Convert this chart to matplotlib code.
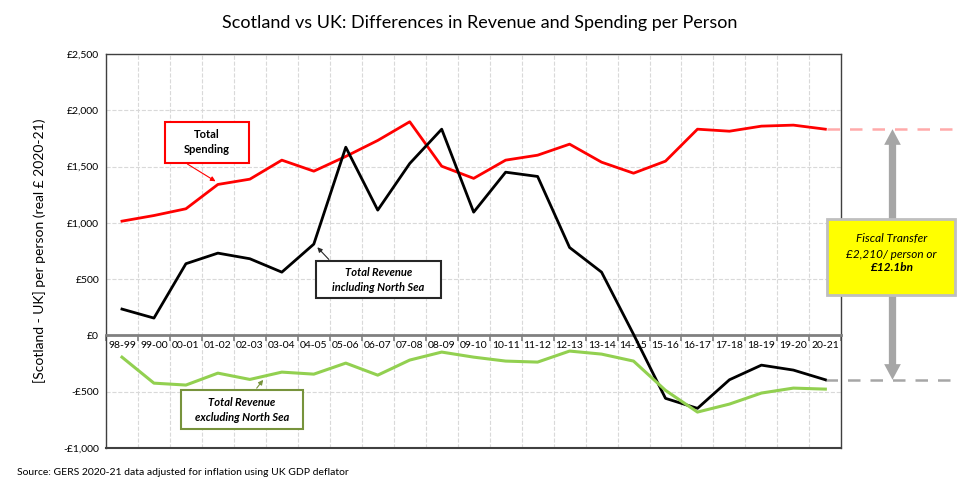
import numpy as np
import matplotlib.pyplot as plt
from matplotlib.patches import Rectangle
from matplotlib.ticker import FuncFormatter

plt.rcParams['font.family'] = ['Lato', 'DejaVu Sans']

years = ['98-99', '99-00', '00-01', '01-02', '02-03', '03-04', '04-05', '05-06',
         '06-07', '07-08', '08-09', '09-10', '10-11', '11-12', '12-13', '13-14',
         '14-15', '15-16', '16-17', '17-18', '18-19', '19-20', '20-21']
spending = [1015, 1065, 1125, 1341, 1388, 1557, 1459, 1590, 1732, 1898, 1503, 1395,
            1557, 1601, 1699, 1539, 1441, 1548, 1832, 1814, 1859, 1868, 1832]
revenue_ns = [234, 154, 637, 731, 681, 562, 811, 1672, 1113, 1527, 1832, 1095,
              1450, 1412, 781, 562, 10, -559, -648, -394, -264, -308, -394]
revenue_ex = [-193, -424, -441, -335, -391, -326, -344, -246, -353, -219, -148, -193,
              -228, -237, -139, -166, -228, -488, -681, -610, -512, -468, -477]

x = np.arange(len(years)) + 0.5

fig = plt.figure(figsize=(9.6, 4.93), dpi=100)
ax = fig.add_axes([0.1104, 0.0913, 0.766, 0.7992])

ax.plot(x, spending, color='#ff0000', lw=2, zorder=3)
ax.plot(x, revenue_ns, color='black', lw=2, zorder=3)
ax.plot(x, revenue_ex, color='#92d050', lw=2.2, zorder=3)

ax.set_xlim(0, len(years))
ax.set_ylim(-1000, 2500)
ax.set_yticks(np.arange(-1000, 2501, 500))
ax.yaxis.set_major_formatter(FuncFormatter(
    lambda v, p: f'£{v:,.0f}' if v >= 0 else f'-£{-v:,.0f}'))
ax.tick_params(axis='y', length=0, labelsize=7.5, pad=5)

# category boundaries as major ticks, labels at centres
ax.set_xticks(np.arange(len(years) + 1))
ax.set_xticklabels([])
ax.set_xticks(x, minor=True)
ax.set_xticklabels(years, minor=True)
ax.tick_params(axis='x', which='major', length=4, color='#808080', width=1.2)
ax.tick_params(axis='x', which='minor', length=0, labelsize=7.5, pad=4)

ax.grid(True, which='major', color='#d9d9d9', ls='--', lw=0.8)
ax.set_axisbelow(True)
ax.spines['bottom'].set_position(('data', 0))
ax.spines['bottom'].set_color('#808080')
ax.spines['bottom'].set_linewidth(2)
for s in ['top', 'left', 'right']:
    ax.spines[s].set_color('#404040')
    ax.spines[s].set_linewidth(1)
ax.axhline(-1000, color='#404040', lw=1.5, clip_on=False)

ax.set_ylabel('[Scotland - UK] per person (real £ 2020-21)', fontsize=10, labelpad=12)
fig.text(0.5, 0.953, 'Scotland vs UK: Differences in Revenue and Spending per Person',
         ha='center', va='center', fontsize=13)
fig.text(0.018, 0.042, 'Source: GERS 2020-21 data adjusted for inflation using UK GDP deflator',
         ha='left', va='center', fontsize=7.5)


def label_box(x0, x1, y0, y1, text, edge, style='normal', weight='bold', fc='white', lw=1.5):
    ax.add_patch(Rectangle((x0, y0), x1 - x0, y1 - y0, fc=fc, ec=edge, lw=lw,
                           clip_on=False, zorder=5))
    ax.text((x0 + x1) / 2, (y0 + y1) / 2, text, ha='center', va='center',
            fontsize=8, fontstyle=style, fontweight=weight, zorder=6,
            linespacing=1.5, clip_on=False)


label_box(1.84, 4.47, 1536, 1900, 'Total\nSpending', '#ff0000')
ax.annotate('', xy=(x[3], spending[3] + 15), xytext=(2.47, 1536),
            arrowprops=dict(arrowstyle='-|>', color='#ff0000', lw=0.8,
                            mutation_scale=7), zorder=4)

label_box(6.56, 10.47, 329, 657, 'Total Revenue\nincluding North Sea', '#262626', style='italic')
ax.annotate('', xy=(x[6] + 0.05, revenue_ns[6] - 10), xytext=(7.03, 657),
            arrowprops=dict(arrowstyle='-|>', color='#262626', lw=0.8,
                            mutation_scale=7), zorder=4)

label_box(2.34, 6.16, -835, -488, 'Total Revenue\nexcluding North Sea', '#77933c', style='italic')
px = 4.97
ax.annotate('', xy=(px, np.interp(px, x, revenue_ex) - 15), xytext=(4.66, -488),
            arrowprops=dict(arrowstyle='-|>', color='#77933c', lw=0.8,
                            mutation_scale=7), zorder=4)

# fiscal transfer
ax.plot([x[-1] + 0.05, 26.6], [spending[-1]] * 2, color='#ffaaaa', lw=1.8,
        ls=(0, (5, 4)), clip_on=False)
ax.plot([x[-1], 26.6], [revenue_ns[-1]] * 2, color='#a6a6a6', lw=1.8,
        ls=(0, (5, 4)), clip_on=False)
mid = (spending[-1] + revenue_ns[-1]) / 2
for end in (spending[-1], revenue_ns[-1]):
    ax.annotate('', xy=(24.6, end), xytext=(24.6, mid),
                arrowprops=dict(arrowstyle='simple,head_length=0.75,head_width=0.8,tail_width=0.35',
                                fc='#a6a6a6', ec='none', mutation_scale=15,
                                shrinkA=0, shrinkB=0), annotation_clip=False, zorder=4)
ax.add_patch(Rectangle((22.56, 355), 4.0, 675, fc='#ffff00', ec='#bfbfbf', lw=2,
                       clip_on=False, zorder=5))
ax.text(24.56, 790, 'Fiscal Transfer\n£2,210/ person or', ha='center', va='center',
        fontsize=8.5, fontstyle='italic', linespacing=1.5, zorder=6, clip_on=False)
ax.text(24.56, 600, '£12.1bn', ha='center', va='center', fontsize=8.5,
        fontstyle='italic', fontweight='bold', zorder=6, clip_on=False)

fig.savefig('out.png', dpi=100)
